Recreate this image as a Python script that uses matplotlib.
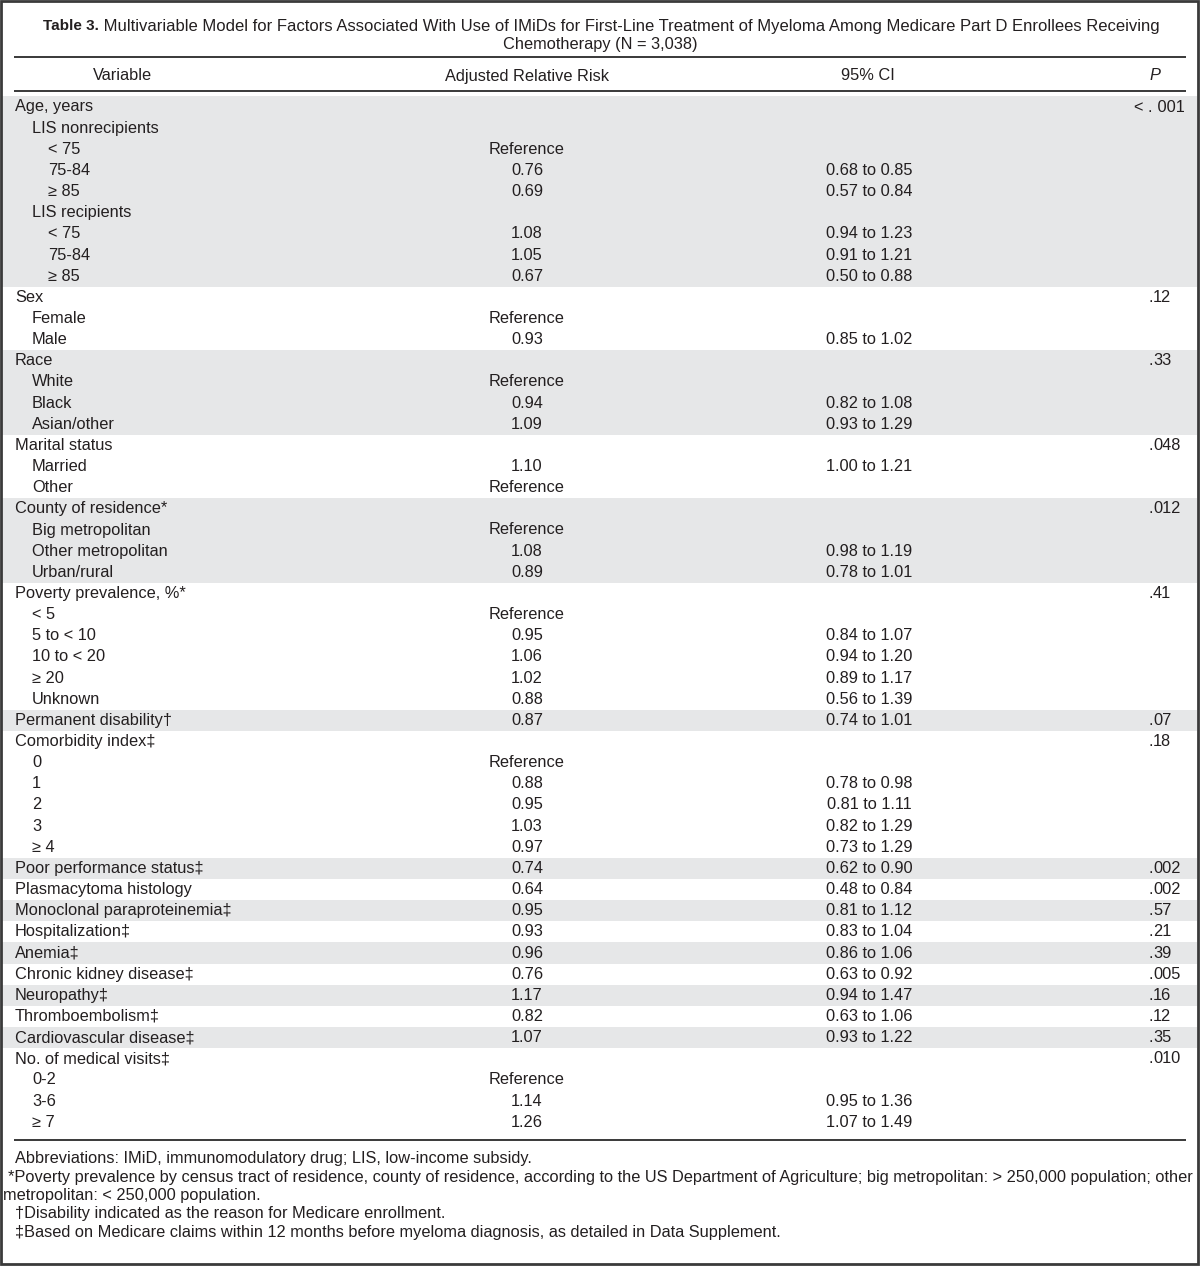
import matplotlib.pyplot as plt
from matplotlib.patches import Rectangle

plt.rcParams['font.family'] = ['Liberation Sans', 'DejaVu Sans']

# table content
labels = ['Age, years', 'LIS nonrecipients', '< 75', '75-84', '≥ 85', 'LIS recipients', '< 75', '75-84', '≥ 85',
          'Sex', 'Female', 'Male',
          'Race', 'White', 'Black', 'Asian/other',
          'Marital status', 'Married', 'Other',
          'County of residence*', 'Big metropolitan', 'Other metropolitan', 'Urban/rural',
          'Poverty prevalence, %*', '< 5', '5 to < 10', '10 to < 20', '≥ 20', 'Unknown',
          'Permanent disability†',
          'Comorbidity index‡', '0', '1', '2', '3', '≥ 4',
          'Poor performance status‡', 'Plasmacytoma histology', 'Monoclonal paraproteinemia‡',
          'Hospitalization‡', 'Anemia‡', 'Chronic kidney disease‡', 'Neuropathy‡', 'Thromboembolism‡',
          'Cardiovascular disease‡',
          'No. of medical visits‡', '0-2', '3-6', '≥ 7']
levels = [0, 1, 2, 2, 2, 1, 2, 2, 2,
          0, 1, 1,
          0, 1, 1, 1,
          0, 1, 1,
          0, 1, 1, 1,
          0, 1, 1, 1, 1, 1,
          0,
          0, 1, 1, 1, 1, 1,
          0, 0, 0, 0, 0, 0, 0, 0, 0,
          0, 1, 1, 1]
rel_risk = ['', '', 'Reference', '0.76', '0.69', '', '1.08', '1.05', '0.67',
            '', 'Reference', '0.93',
            '', 'Reference', '0.94', '1.09',
            '', '1.10', 'Reference',
            '', 'Reference', '1.08', '0.89',
            '', 'Reference', '0.95', '1.06', '1.02', '0.88',
            '0.87',
            '', 'Reference', '0.88', '0.95', '1.03', '0.97',
            '0.74', '0.64', '0.95', '0.93', '0.96', '0.76', '1.17', '0.82', '1.07',
            '', 'Reference', '1.14', '1.26']
ci = ['', '', '', '0.68 to 0.85', '0.57 to 0.84', '', '0.94 to 1.23', '0.91 to 1.21', '0.50 to 0.88',
      '', '', '0.85 to 1.02',
      '', '', '0.82 to 1.08', '0.93 to 1.29',
      '', '1.00 to 1.21', '',
      '', '', '0.98 to 1.19', '0.78 to 1.01',
      '', '', '0.84 to 1.07', '0.94 to 1.20', '0.89 to 1.17', '0.56 to 1.39',
      '0.74 to 1.01',
      '', '', '0.78 to 0.98', '0.81 to 1.11', '0.82 to 1.29', '0.73 to 1.29',
      '0.62 to 0.90', '0.48 to 0.84', '0.81 to 1.12', '0.83 to 1.04', '0.86 to 1.06', '0.63 to 0.92',
      '0.94 to 1.47', '0.63 to 1.06', '0.93 to 1.22',
      '', '', '0.95 to 1.36', '1.07 to 1.49']
p_values = ['< . 001', '', '', '', '', '', '', '', '',
            '.12', '', '',
            '.33', '', '', '',
            '.048', '', '',
            '.012', '', '', '',
            '.41', '', '', '', '', '',
            '.07',
            '.18', '', '', '', '', '',
            '.002', '.002', '.57', '.21', '.39', '.005', '.16', '.12', '.35',
            '.010', '', '', '']

title_bold = 'Table 3.'
title_rest = ' Multivariable Model for Factors Associated With Use of IMiDs for First-Line Treatment of Myeloma Among Medicare Part D Enrollees Receiving'
title_line2 = 'Chemotherapy (N = 3,038)'
headers = ['Variable', 'Adjusted Relative Risk', '95% CI', 'P']
footnotes = ['Abbreviations: IMiD, immunomodulatory drug; LIS, low-income subsidy.',
             '*Poverty prevalence by census tract of residence, county of residence, according to the US Department of Agriculture; big metropolitan: > 250,000 population; other',
             'metropolitan: < 250,000 population.',
             '†Disability indicated as the reason for Medicare enrollment.',
             '‡Based on Medicare claims within 12 months before myeloma diagnosis, as detailed in Data Supplement.']
foot_x = [15, 8, 3, 15, 15]

txt = '#231f20'
shade = '#e6e7e8'
fs = 11.8

fig = plt.figure(figsize=(12, 12.66), dpi=100)
ax = fig.add_axes([0, 0, 1, 1])
ax.set_xlim(0, 1200)
ax.set_ylim(1266, 0)
ax.axis('off')

# title
t1 = ax.text(43, 26, title_bold, fontsize=11.0, fontweight='bold', color=txt, va='center', ha='left')
ax.annotate(title_rest, xy=(1, 0.5), xycoords=t1, va='center', ha='left', fontsize=12.0, color=txt)
ax.text(600, 45, title_line2, fontsize=fs, color=txt, va='center', ha='center')

# rules
for y in (57, 91, 1140):
    ax.plot([14, 1186], [y, y], color='#2a2a2a', lw=1.3, solid_capstyle='butt')

# header
ax.text(122, 76, headers[0], fontsize=fs, color=txt, ha='center', va='center')
ax.text(527, 76, headers[1], fontsize=fs, color=txt, ha='center', va='center')
ax.text(868, 76, headers[2], fontsize=fs, color=txt, ha='center', va='center')
ax.text(1155, 76, headers[3], fontsize=fs, color=txt, ha='center', va='center', style='italic')

# rows
y0, dy = 107, 21.15
group = -1
indent = {0: 15, 1: 32, 2: 48}
for i, lab in enumerate(labels):
    y = y0 + i * dy
    if levels[i] == 0:
        group += 1
    if group % 2 == 0:
        ax.add_patch(Rectangle((2, y - dy / 2), 1195, dy, color=shade, lw=0, zorder=0))
    ax.text(indent[levels[i]], y, lab, fontsize=fs, color=txt, ha='left', va='center')
    ax.text(527, y, rel_risk[i], fontsize=fs, color=txt, ha='center', va='center')
    ax.text(869, y, ci[i], fontsize=fs, color=txt, ha='center', va='center')
    p = p_values[i]
    if p:
        k = p.rfind('.') + 1
        ax.text(1153, y, p[:k], fontsize=fs, color=txt, ha='right', va='center')
        ax.text(1153, y, p[k:], fontsize=fs, color=txt, ha='left', va='center')

# footnotes
for j, note in enumerate(footnotes):
    ax.text(foot_x[j], 1159 + j * 18.3, note, fontsize=fs, color=txt, ha='left', va='center')

# frame
ax.add_patch(Rectangle((1, 1), 1197, 1263, fill=False, ec='#3a3a3a', lw=2))

fig.savefig('out.png', dpi=100)
